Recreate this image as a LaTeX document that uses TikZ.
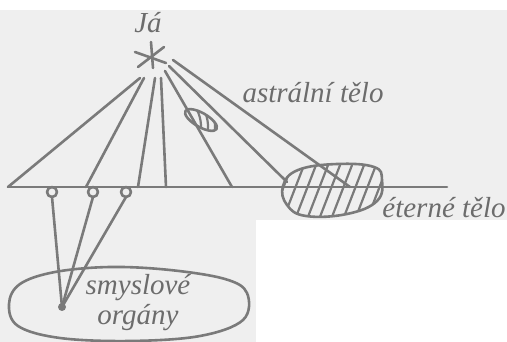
\documentclass[tikz,border=0pt]{standalone}
\usepackage{fontspec}
\setmainfont{Liberation Serif}
\usetikzlibrary{shapes.geometric}
\definecolor{bgc}{HTML}{EFEFEF}
\definecolor{inkc}{HTML}{7A7A7A}
\definecolor{txtc}{HTML}{6C6C6C}
\begin{document}
\begin{tikzpicture}[x=1pt,y=-1pt,
  ink/.style={draw=inkc, line width=2.6pt, line cap=round, line join=round},
  hatch/.style={draw=inkc, line width=2.2pt, line cap=round},
  lbl/.style={text=txtc, font=\fontsize{29}{30}\selectfont\itshape, inner sep=0pt}]
\useasboundingbox (0,0) rectangle (507,342);
\fill[bgc] (0,10) rectangle (507,342);
\fill[white] (256,220) rectangle (507,342);

% labels
\node[lbl] (ja) at (148,23) {Já};
\node[lbl] (astral) at (313,93) {astrální tělo};
\node[lbl] (eter) at (444,208) {éterné tělo};
\node[lbl] (smysl) at (138,288) {smyslové};
\node[lbl] (organ) at (138,318) {orgány};

% star
\coordinate (star) at (152,56);
\draw[ink] (151,42) -- (153,68);
\draw[ink] (135,52) -- (166,63);
\draw[ink] (138,67) -- (164,47);

% ray starts
\coordinate (s1) at (140,78);
\coordinate (s2) at (144,78);
\coordinate (s3) at (155,78);
\coordinate (s4) at (161,78);
\coordinate (s5) at (165,71);
\coordinate (s6) at (169,66);
\coordinate (s7) at (173,60);

% baseline
\coordinate (bl) at (8,187);
\coordinate (br) at (447,187);
\draw[ink] (bl) -- (br);

% ray ends
\coordinate (e2) at (86,187);
\coordinate (e3) at (138,187);
\coordinate (e4) at (166,187);
\coordinate (e5) at (232,187);
\coordinate (e6) at (287,182);
\coordinate (e7) at (350,187);

\draw[ink] (s1) -- (bl);
\draw[ink] (s2) -- (e2);
\draw[ink] (s3) -- (e3);
\draw[ink] (s4) -- (e4);
\draw[ink] (s5) -- (e5);
\draw[ink] (s6) -- (e6);
\draw[ink] (s7) -- (e7);

% small astral ellipse
\node[ink, ellipse, minimum width=36pt, minimum height=14pt, inner sep=0pt, rotate=-30] (small) at (201,120) {};
\begin{scope}
  \clip[rotate around={-30:(201,120)}] (201,120) ellipse [x radius=17, y radius=6.5];
  \foreach \x in {198,205,212} \draw[hatch] (\x-3,106) to[bend left=20] (\x+2,136);
\end{scope}

% big etheric ellipse (hatched)
\coordinate (bigc) at (332,191);
\def\bigpath{plot[smooth cycle, tension=0.7] coordinates {(283,186) (298,170) (337,164) (374,167) (382,180) (377,201) (347,214) (306,216) (287,205)}}
\begin{scope}
  \clip \bigpath;
  \foreach \x in {270,282,...,378} \draw[hatch] (\x,222) -- (\x+24,160);
\end{scope}
\draw[ink] \bigpath;

% sense-organ circles on baseline
\coordinate (c1) at (52,197);
\coordinate (c2) at (93,197);
\coordinate (c3) at (126,197);
\foreach \x in {52,93,126}
  \draw[ink] (\x,192) circle [radius=5];
\coordinate (dot) at (62,307);
\draw[ink] (c1) -- (dot);
\draw[ink] (c2) -- (dot);
\draw[ink] (c3) -- (dot);
\fill[inkc] (dot) circle [radius=4];

% sense organs ellipse
\draw[ink] plot[smooth cycle, tension=0.6] coordinates {(9,304) (20,284) (55,272) (110,267) (170,270) (225,279) (247,293) (243,320) (200,336) (130,341) (60,338) (18,326)};
\end{tikzpicture}
\end{document}
